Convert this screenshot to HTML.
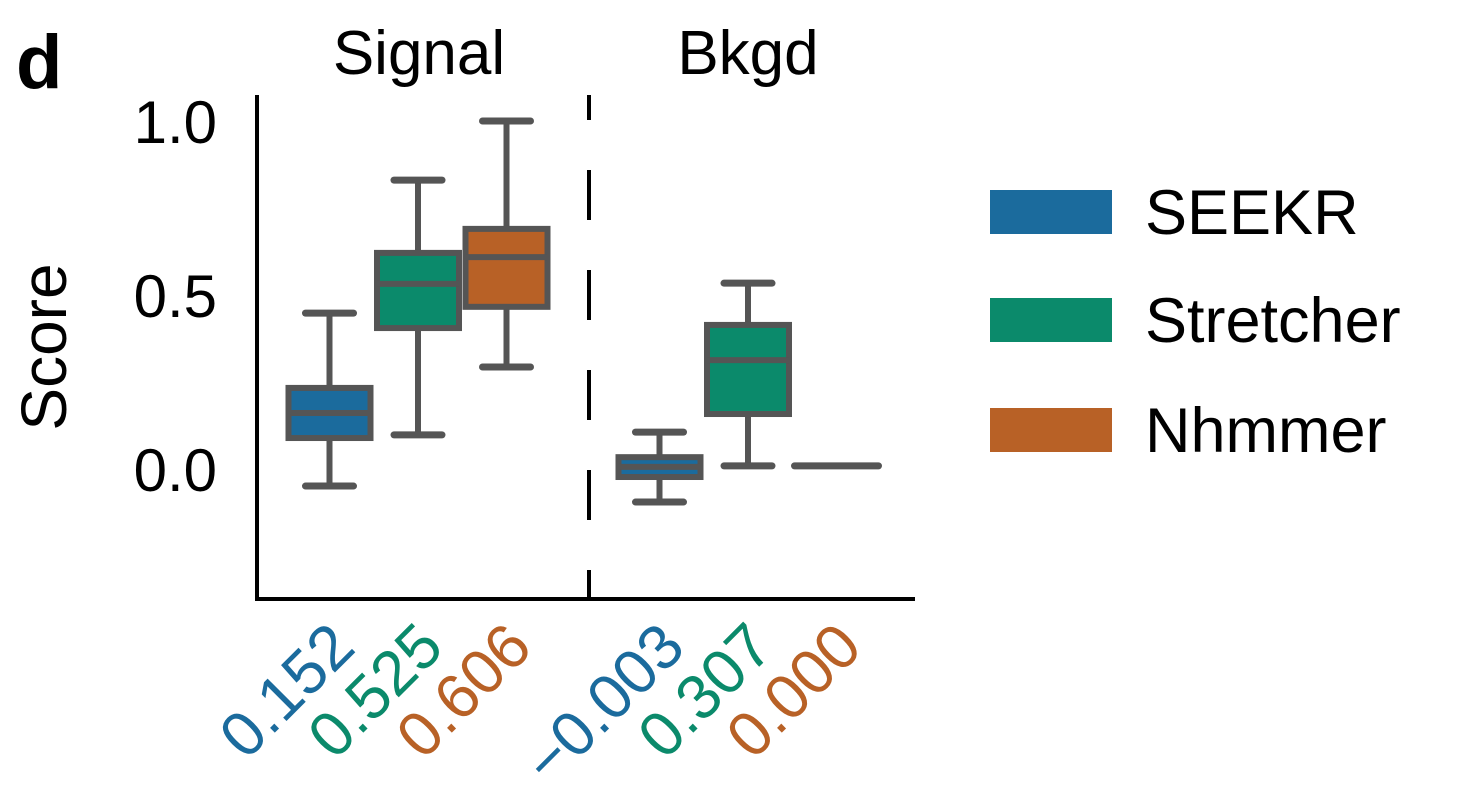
<!DOCTYPE html>
<html><head><meta charset="utf-8"><style>
html,body{margin:0;padding:0;background:#fff;}
svg text{font-family:"Liberation Sans",sans-serif;}
</style></head><body>
<svg id="chart" width="1458" height="796" viewBox="0 0 1458 796" xmlns="http://www.w3.org/2000/svg">
<text x="16" y="88" font-size="76" font-weight="bold">d</text>
<text x="419" y="74" font-size="62" text-anchor="middle">Signal</text>
<text x="748" y="74" font-size="62" text-anchor="middle">Bkgd</text>
<text transform="translate(66,347) rotate(-90)" font-size="64" text-anchor="middle">Score</text>
<g id="plot"></g>
<g id="legend"></g>
</svg>
<script>
const groups = ["Signal","Bkgd"];
const methods = ["SEEKR","Stretcher","Nhmmer"];
const colors = ["#1b6b9d","#0b8a6b","#b86126"];
const whiskLow = [[-0.049,0.098,0.293],[-0.095,0.009,0.009]];
const q1 = [[0.089,0.405,0.466],[-0.023,0.158,0.009]];
const medians = [[0.161,0.532,0.609],[0.006,0.313,0.009]];
const q3 = [[0.233,0.621,0.690],[0.034,0.414,0.009]];
const whiskHigh = [[0.448,0.830,1.0],[0.106,0.534,0.009]];
const meanLabels = [["0.152","0.525","0.606"],["\u22120.003","0.307","0.000"]];
const yTicks = [0.0,0.5,1.0];
const yTickLabels = ["0.0","0.5","1.0"];

const NS="http://www.w3.org/2000/svg";
const plot=document.getElementById('plot');
const y0=469, yScale=348;
function Y(v){return y0 - v*yScale;}
function X(g,m){return 418 + g*330 + (m-1)*88.5;}
function mk(tag,attrs){const e=document.createElementNS(NS,tag);for(const k in attrs)e.setAttribute(k,attrs[k]);plot.appendChild(e);return e;}

let e=mk('line',{x1:257,y1:95,x2:257,y2:601,stroke:'#000','stroke-width':4});


e=mk('line',{x1:255,y1:599,x2:915,y2:599,stroke:'#000','stroke-width':4});


e=mk('line',{x1:589,y1:95,x2:589,y2:598,stroke:'#000','stroke-width':4,'stroke-dasharray':'50,50','stroke-dashoffset':'25'});



yTicks.forEach((t,i)=>{
  const tx=mk('text',{x:217,y:Y(t)+22,'font-size':60,'text-anchor':'end'});
  tx.textContent=yTickLabels[i];
  
  
});

const gray='#555555';
for(let g=0;g<groups.length;g++){
  for(let m=0;m<methods.length;m++){
    const cx=X(g,m), hw=44, cw=24;
    const flat = Math.abs(q3[g][m]-q1[g][m])<1e-6 && Math.abs(whiskHigh[g][m]-whiskLow[g][m])<1e-6;
    if(flat){
      const l=mk('line',{x1:cx-hw+2,x2:cx+hw-2,y1:Y(medians[g][m]),y2:Y(medians[g][m]),stroke:gray,'stroke-width':7,'stroke-linecap':'round'});
      
      
    } else {
      let w=mk('line',{x1:cx,x2:cx,y1:Y(whiskHigh[g][m]),y2:Y(q3[g][m]),stroke:gray,'stroke-width':6});
      
      
      w=mk('line',{x1:cx,x2:cx,y1:Y(q1[g][m]),y2:Y(whiskLow[g][m]),stroke:gray,'stroke-width':6});
      
      
      w=mk('line',{x1:cx-cw,x2:cx+cw,y1:Y(whiskHigh[g][m]),y2:Y(whiskHigh[g][m]),stroke:gray,'stroke-width':7,'stroke-linecap':'round'});
      
      
      w=mk('line',{x1:cx-cw,x2:cx+cw,y1:Y(whiskLow[g][m]),y2:Y(whiskLow[g][m]),stroke:gray,'stroke-width':7,'stroke-linecap':'round'});
      
      
      const b=mk('rect',{x:cx-hw+3,y:Y(q3[g][m]),width:2*hw-6,height:Y(q1[g][m])-Y(q3[g][m]),fill:colors[m],stroke:gray,'stroke-width':6});
      
      
      const md=mk('line',{x1:cx-hw+3,x2:cx+hw-3,y1:Y(medians[g][m]),y2:Y(medians[g][m]),stroke:gray,'stroke-width':6});
      
      
    }
    const lt=mk('text',{'font-size':63,'text-anchor':'end',fill:colors[m],transform:'translate('+(cx+28)+',650) rotate(-45)'});
    lt.textContent=meanLabels[g][m];
    
    
  }
}

const leg=document.getElementById('legend');
const legY=[190,298,408];
methods.forEach((n,i)=>{
  const r=document.createElementNS(NS,'rect');
  r.setAttribute('x',990);r.setAttribute('y',legY[i]);r.setAttribute('width',122);r.setAttribute('height',44);r.setAttribute('fill',colors[i]);
  
  
  leg.appendChild(r);
  const t=document.createElementNS(NS,'text');
  t.setAttribute('x',1145);t.setAttribute('y',legY[i]+44);t.setAttribute('font-size',63);
  t.textContent=n;
  
  
  leg.appendChild(t);
});
</script>
</body></html>
